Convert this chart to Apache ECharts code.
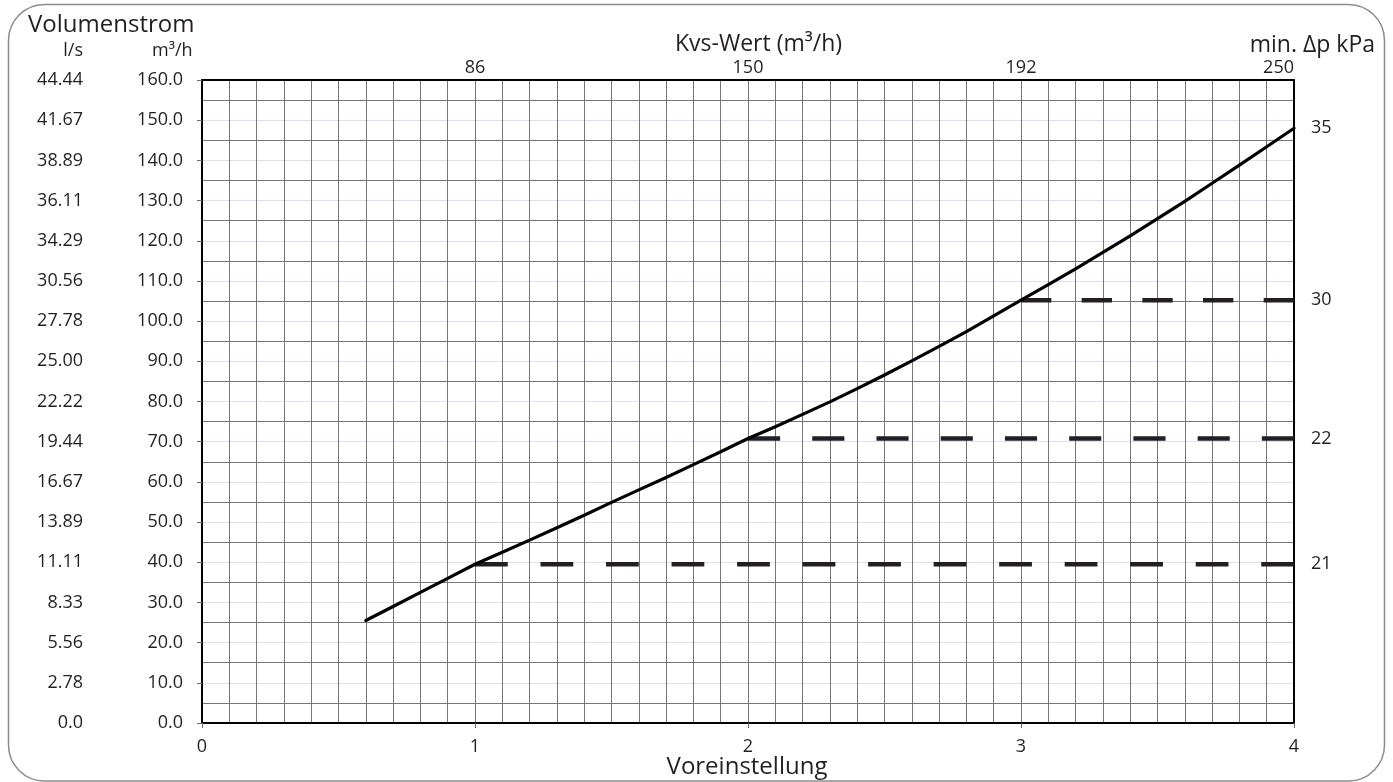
<!DOCTYPE html>
<html>
<head>
<meta charset="utf-8">
<title>Volumenstrom / Voreinstellung</title>
<script src="https://cdn.jsdelivr.net/npm/echarts@6/dist/echarts.min.js"></script>
<style>
  html, body { margin: 0; padding: 0; background: #ffffff; }
  #chart { width: 1393px; height: 782px; }
</style>
</head>
<body>
<div id="chart"></div>
<script>
// Voreinstellung (presetting) positions of the valve characteristic
const settings = [0.6, 0.7, 0.8, 0.9, 1.0,
  1.1, 1.2, 1.3, 1.4, 1.5, 1.6, 1.7, 1.8, 1.9, 2.0,
  2.1, 2.2, 2.3, 2.4, 2.5, 2.6, 2.7, 2.8, 2.9, 3.0,
  3.1, 3.2, 3.3, 3.4, 3.5, 3.6, 3.7, 3.8, 3.9, 4.0];
// Volumenstrom in m³/h at each presetting
const flow = [25.5, 29.0, 32.5, 36.0, 39.5,
  42.5, 45.5, 48.6, 51.7, 54.9, 58.0, 61.1, 64.3, 67.5, 70.8,
  73.7, 76.8, 79.9, 83.2, 86.6, 90.1, 93.7, 97.4, 101.3, 105.2,
  109.1, 113.0, 117.1, 121.2, 125.5, 129.8, 134.3, 138.8, 143.4, 148.0];

// Kvs values shown on the top axis at presettings 1..4
const kvsSettings = [1, 2, 3, 4];
const kvsLabels = ['86', '150', '192', '250'];

// minimum differential pressure levels: start presetting, flow, label
const dpStart = [1, 2, 3];
const dpFlow = [39.5, 70.8, 105.2];
const dpLabels = ['21', '22', '30'];
const dpEndFlow = 148.0;
const dpEndLabel = '35';

// left axis tick labels, m³/h and l/s columns (one per 10 m³/h)
const m3hLabels = ['0.0', '10.0', '20.0', '30.0', '40.0', '50.0', '60.0', '70.0', '80.0',
  '90.0', '100.0', '110.0', '120.0', '130.0', '140.0', '150.0', '160.0'];
const lsLabels = ['0.0', '2.78', '5.56', '8.33', '11.11', '13.89', '16.67', '19.44', '22.22',
  '25.00', '27.78', '30.56', '34.29', '36.11', '38.89', '41.67', '44.44'];

const FONT = 'Open Sans';
const INK = '#231f20';
const GRID_DARK = '#777777';
const GRID_LIGHT = '#dae2f3';

// right axis: pressure labels sit at the flow of each level
const rightValues = dpFlow.concat([dpEndFlow]);
const rightLabels = dpLabels.concat([dpEndLabel]);

const chart = echarts.init(document.getElementById('chart'), null, { renderer: 'canvas' });

function dashSeries(i) {
  return {
    name: 'dp' + dpLabels[i],
    type: 'line',
    xAxisIndex: 0,
    yAxisIndex: 0,
    data: [[dpStart[i], dpFlow[i]], [4, dpFlow[i]]],
    showSymbol: false,
    silent: true,
    z: 10,
    lineStyle: { color: INK, width: 4.5, type: [32, 32], cap: 'butt' }
  };
}

const option = {
  animation: false,
  backgroundColor: '#ffffff',
  textStyle: { fontFamily: FONT, color: INK },
  grid: { left: 202, right: 99, top: 80, bottom: 59, containLabel: false, outerBoundsMode: 'none' },
  xAxis: [
    {
      type: 'value', position: 'bottom', min: 0, max: 4, interval: 1,
      axisLine: { show: true, onZero: false, lineStyle: { color: '#000', width: 2 } },
      axisTick: { show: true, length: 5, lineStyle: { color: '#666', width: 1 } },
      axisLabel: { fontFamily: FONT, fontSize: 18, color: INK, margin: 15 },
      splitLine: { show: true, lineStyle: { color: GRID_DARK, width: 1 } },
      minorTick: { show: false, splitNumber: 10 },
      minorSplitLine: { show: true, lineStyle: { color: GRID_DARK, width: 1 } }
    },
    {
      type: 'value', position: 'top', min: 0, max: 4, interval: 1,
      axisLine: { show: true, onZero: false, lineStyle: { color: '#000', width: 2 } },
      axisTick: { show: false },
      axisLabel: {
        fontFamily: FONT, fontSize: 18, color: INK, margin: 3,
        alignMaxLabel: 'right',
        formatter: function (v) {
          const k = kvsSettings.indexOf(v);
          return k >= 0 ? kvsLabels[k] : '';
        }
      },
      splitLine: { show: false }
    }
  ],
  yAxis: [
    {
      type: 'value', position: 'left', min: 0, max: 160, interval: 10,
      axisLine: { show: true, onZero: false, lineStyle: { color: '#000', width: 2 } },
      axisTick: { show: true, length: 5, lineStyle: { color: '#666', width: 1 } },
      axisLabel: {
        fontFamily: FONT, fontSize: 18, color: INK, margin: 19,
        formatter: function (v) { return m3hLabels[Math.round(v / 10)] || ''; }
      },
      splitLine: { show: true, lineStyle: { color: GRID_LIGHT, width: 1 } },
      minorTick: { show: false, splitNumber: 2 },
      minorSplitLine: { show: true, lineStyle: { color: GRID_DARK, width: 1 } }
    },
    {
      type: 'value', position: 'left', min: 0, max: 160, interval: 10,
      axisLine: { show: false },
      axisTick: { show: false },
      axisLabel: {
        fontFamily: FONT, fontSize: 18, color: INK, margin: 119,
        formatter: function (v) { return lsLabels[Math.round(v / 10)] || ''; }
      },
      splitLine: { show: false }
    },
    {
      type: 'value', position: 'right', min: 0, max: 160,
      axisLine: { show: true, onZero: false, lineStyle: { color: '#000', width: 2 } },
      axisTick: { show: false },
      axisLabel: {
        fontFamily: FONT, fontSize: 18, color: INK, margin: 17,
        customValues: rightValues,
        formatter: function (v) {
          const k = rightValues.indexOf(v);
          return k >= 0 ? rightLabels[k] : '';
        }
      },
      splitLine: { show: false }
    }
  ],
  series: [
    {
      name: 'Volumenstrom',
      type: 'line',
      xAxisIndex: 0,
      yAxisIndex: 0,
      data: settings.map(function (s, i) { return [s, flow[i]]; }),
      showSymbol: false,
      smooth: false,
      silent: true,
      z: 11,
      lineStyle: { color: '#000', width: 3.2, cap: 'round', join: 'round' }
    },
    dashSeries(0),
    dashSeries(1),
    dashSeries(2)
  ],
  graphic: [
    {
      type: 'rect', silent: true, z: 0,
      shape: { x: 8.5, y: 4.5, width: 1376, height: 776.5, r: 36 },
      style: { fill: 'none', stroke: '#8c8c8c', lineWidth: 1.5 }
    },
    {
      type: 'text', silent: true, x: 28, y: 25,
      style: { text: 'Volumenstrom', font: '24px "Open Sans"', fill: INK, align: 'left', verticalAlign: 'middle' }
    },
    {
      type: 'text', silent: true, x: 83, y: 51,
      style: { text: 'l/s', font: '18px "Open Sans"', fill: INK, align: 'right', verticalAlign: 'middle' }
    },
    {
      type: 'text', silent: true, x: 152, y: 51,
      style: { text: 'm³/h', font: '18px "Open Sans"', fill: INK, align: 'left', verticalAlign: 'middle' }
    },
    {
      type: 'text', silent: true, x: 675, y: 44,
      style: { text: 'Kvs-Wert (m³/h)', font: '23px "Open Sans"', fill: INK, align: 'left', verticalAlign: 'middle' }
    },
    {
      type: 'text', silent: true, x: 1375, y: 45,
      style: { text: 'min. Δp kPa', font: '23px "Open Sans"', fill: INK, align: 'right', verticalAlign: 'middle' }
    },
    {
      type: 'text', silent: true, x: 747, y: 767,
      style: { text: 'Voreinstellung', font: '24px "Open Sans"', fill: INK, align: 'center', verticalAlign: 'middle' }
    }
  ]
};

chart.setOption(option);

// Each pressure level is drawn as equal dashes and gaps with a full dash at both ends
const dashCounts = [13, 9, 5];
const xEnd = chart.convertToPixel({ xAxisIndex: 0 }, 4);
const dashUpdate = dashCounts.map(function (n, i) {
  const span = xEnd - chart.convertToPixel({ xAxisIndex: 0 }, dpStart[i]);
  const d = span / (2 * n - 1);
  return { lineStyle: { type: [d, d] } };
});
chart.setOption({ series: [{}].concat(dashUpdate) });
</script>
</body>
</html>
